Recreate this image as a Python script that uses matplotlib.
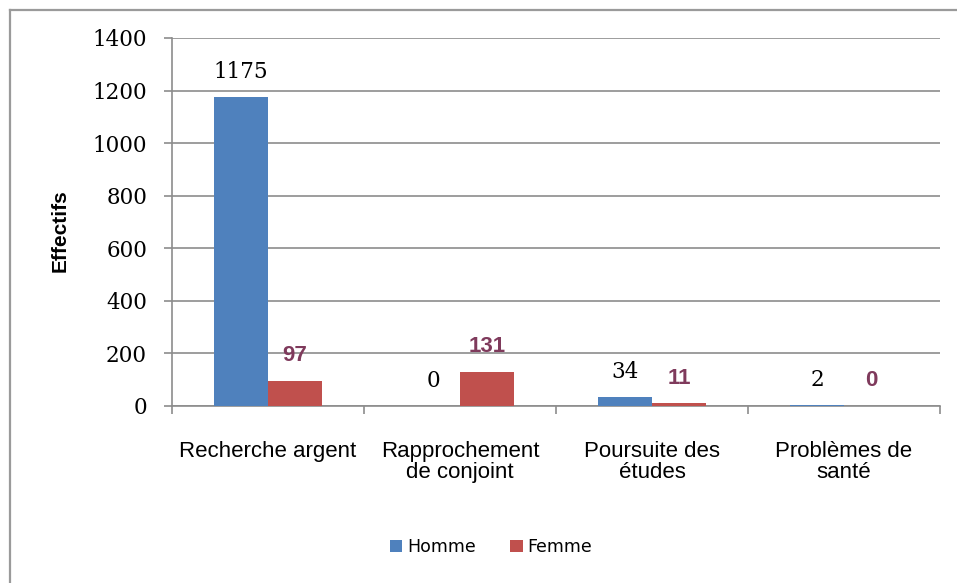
import numpy as np
import matplotlib
matplotlib.use("Agg")
import matplotlib.pyplot as plt
from matplotlib.lines import Line2D

# data
categories = ["Recherche argent", "Rapprochement\nde conjoint", "Poursuite des\nétudes", "Problèmes de\nsanté"]
homme = [1175, 0, 34, 2]
femme = [97, 131, 11, 0]
yticks = [0, 200, 400, 600, 800, 1000, 1200, 1400]

blue = "#4F81BD"
red = "#C0504D"
grid_col = "#8C8C8C"

fig = plt.figure(figsize=(9.57, 5.83), dpi=100)
ax = fig.add_axes([172/957, 1-406/583, (940-172)/957, (406-38)/583])

# outer chart border (cut off right/bottom like the screenshot)
bx, by = 9.5/957, 1 - 9.5/583
fig.lines.append(Line2D([bx, 1.0], [by, by], transform=fig.transFigure, color="#9A9A9A", lw=1.6))
fig.lines.append(Line2D([bx, bx], [0, by], transform=fig.transFigure, color="#9A9A9A", lw=1.6))

x = np.arange(len(categories))
w = 0.28
ax.bar(x - w/2, homme, w, color=blue, zorder=3, label="Homme")
ax.bar(x + w/2, femme, w, color=red, zorder=3, label="Femme")

# data labels
for xi, v in zip(x - w/2, homme):
    ax.annotate(str(v), (xi, v), xytext=(0, 18), textcoords="offset points",
                ha="center", va="center", fontsize=15.5, family="DejaVu Serif", color="black")
for xi, v in zip(x + w/2, femme):
    ax.annotate(str(v), (xi, v), xytext=(0, 18), textcoords="offset points",
                ha="center", va="center", fontsize=16, fontweight="bold",
                family="Liberation Sans", color="#7F3A5C")

ax.set_xlim(-0.5, 3.5)
ax.set_ylim(0, 1400)
ax.set_yticks(yticks)
ax.set_yticklabels([str(t) for t in yticks], family="DejaVu Serif", fontsize=15.5)
ax.yaxis.grid(True, color=grid_col, lw=1.2, zorder=0)
ax.set_axisbelow(True)

ax.set_xticks(np.arange(-0.5, 4, 1))
ax.set_xticklabels([])
ax.set_xticks(x, minor=True)
ax.set_xticklabels(categories, minor=True, fontsize=16, family="Liberation Sans",
                   linespacing=1.0)
ax.tick_params(axis="x", which="minor", length=0, pad=25)
ax.tick_params(axis="x", which="major", length=6, color=grid_col, width=1.2)
ax.tick_params(axis="y", length=6, color=grid_col, width=1.2, pad=12)

for s in ["top", "right"]:
    ax.spines[s].set_visible(False)
for s in ["left", "bottom"]:
    ax.spines[s].set_color(grid_col)
    ax.spines[s].set_linewidth(1.2)

ax.set_ylabel("Effectifs", fontsize=15, fontweight="bold", family="Liberation Sans")
ax.yaxis.set_label_coords(-102/768, (406-231)/368)

fig.legend(loc="center", bbox_to_anchor=(491/957, 1-547/583), ncol=2, frameon=False,
           prop={"family": "DejaVu Sans", "size": 12.5},
           handlelength=0.7, handleheight=0.7, handletextpad=0.3, columnspacing=2.0)

fig.savefig("out.png", dpi=100)
